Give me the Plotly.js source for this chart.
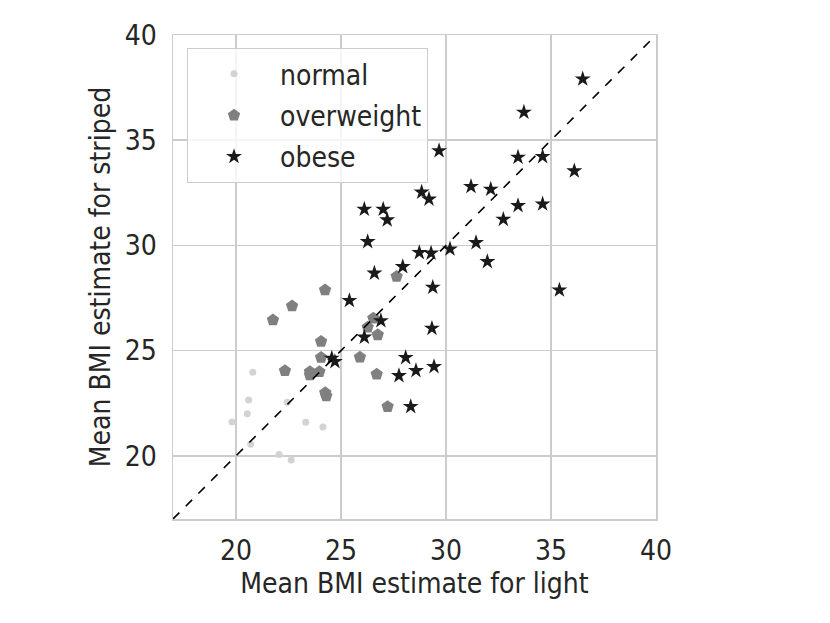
<!DOCTYPE html>
<html>
<head>
<meta charset="utf-8">
<script src="https://cdn.plot.ly/plotly-3.0.1.min.js"></script>
<style>
  html, body { margin: 0; padding: 0; background: #fff; }
  #chart { width: 830px; height: 623px; }
</style>
</head>
<body>
<div id="chart"></div>
<script>
// mean BMI estimates, light (x) vs striped (y)
var normalX = [20.8, 20.6, 20.54, 19.81, 22.44, 23.32, 24.14, 20.7, 22.05, 22.63];
var normalY = [23.97, 22.66, 22.0, 21.61, 22.55, 21.6, 21.37, 20.55, 20.06, 19.8];

var overX = [21.76, 22.67, 24.24, 27.65, 26.54, 26.27, 26.75, 24.05, 24.05, 25.9,
             22.33, 23.52, 23.52, 23.97, 24.25, 24.3, 26.7, 27.22];
var overY = [26.46, 27.12, 27.88, 28.52, 26.54, 26.11, 25.75, 25.43, 24.67, 24.69,
             24.05, 24.0, 23.84, 24.0, 23.0, 22.85, 23.88, 22.34];

var obeseX = [36.51, 33.71, 29.67, 33.43, 34.6, 36.11, 31.19, 32.13, 28.84, 29.19,
              33.43, 34.6, 26.11, 27.01, 27.2, 32.73, 26.27, 28.73, 29.29, 30.19,
              31.43, 31.97, 27.94, 26.59, 29.37, 35.4, 25.4, 26.9, 29.33, 26.11,
              28.08, 28.57, 29.43, 27.76, 28.32, 24.56, 24.71];
var obeseY = [37.91, 36.33, 34.5, 34.19, 34.22, 33.54, 32.8, 32.67, 32.53, 32.2,
              31.89, 31.97, 31.72, 31.72, 31.21, 31.24, 30.18, 29.66, 29.63, 29.83,
              30.13, 29.23, 28.99, 28.68, 28.01, 27.88, 27.38, 26.42, 26.06, 25.64,
              24.67, 24.05, 24.24, 23.81, 22.34, 24.64, 24.48];

var axisRange = [17, 40];
var tickVals = [20, 25, 30, 35, 40];

var font = "DejaVu Sans Condensed, DejaVu Sans, sans-serif";
var fsize = 28;

var data = [
    {
        x: normalX, y: normalY, name: "normal", type: "scatter", mode: "markers",
        legendgroup: "a",
        marker: { symbol: "circle", size: 7, color: "#d3d3d3" },
    },
    {
        x: overX, y: overY, name: "overweight", type: "scatter", mode: "markers",
        legendgroup: "b",
        marker: { symbol: "pentagon", size: 13, color: "#808080" },
    },
    {
        x: obeseX, y: obeseY, name: "obese", type: "scatter", mode: "markers",
        legendgroup: "c",
        marker: { symbol: "star", size: 12, color: "#1a1a1a" },
    },
    {
        x: axisRange, y: axisRange, type: "scatter", mode: "lines",
        showlegend: false, hoverinfo: "skip",
        line: { color: "#000", width: 1.6, dash: "dash" },
    },
];

var axisCommon = {
    range: axisRange,
    tickvals: tickVals,
    showgrid: true,
    gridcolor: "#cccccc",
    gridwidth: 1.5,
    zeroline: false,
    showline: true,
    linecolor: "#cccccc",
    linewidth: 1.5,
    mirror: true,
    ticks: "",
    tickfont: { family: font, size: fsize, color: "#262626" },
};

var layout = {
    width: 830,
    height: 623,
    margin: { l: 173, r: 174, t: 35, b: 104 },
    paper_bgcolor: "#fff",
    plot_bgcolor: "#fff",
    font: { family: font, color: "#262626" },
    xaxis: Object.assign({}, axisCommon, {
        ticklabelstandoff: 6,
        title: { text: "Mean BMI estimate for light", font: { family: font, size: fsize }, standoff: 2 },
    }),
    yaxis: Object.assign({}, axisCommon, {
        ticklabelstandoff: 9,
        title: { text: "Mean BMI estimate for striped", font: { family: font, size: fsize }, standoff: 6 },
    }),
    legend: {
        x: 0.029, y: 0.973, xanchor: "left", yanchor: "top",
        bgcolor: "rgba(255,255,255,0.8)",
        bordercolor: "#cccccc", borderwidth: 1,
        font: { family: font, size: fsize, color: "#262626" },
        itemwidth: 82,
        tracegroupgap: 2,
    },
    showlegend: true,
};

Plotly.newPlot("chart", data, layout, { staticPlot: true });
</script>
</body>
</html>
